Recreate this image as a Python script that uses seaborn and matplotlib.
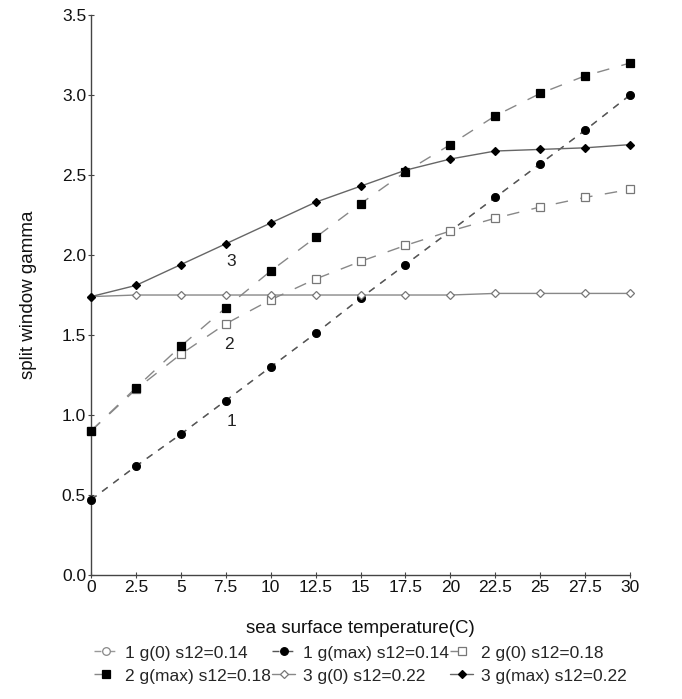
import numpy as np
import pandas as pd
import matplotlib
matplotlib.use("Agg")
import matplotlib.pyplot as plt
import seaborn as sns

sns.set_style("ticks")
plt.rcParams["font.family"] = ["Liberation Sans", "DejaVu Sans"]

# sea surface temperature (C)
sst = [0, 2.5, 5, 7.5, 10, 12.5, 15, 17.5, 20, 22.5, 25, 27.5, 30]

g0_s014 = [0.47, 0.68, 0.88, 1.09, 1.30, 1.51, 1.73, 1.94, 2.15, 2.36, 2.57, 2.78, 3.00]
gmax_s014 = [0.47, 0.68, 0.88, 1.09, 1.30, 1.51, 1.73, 1.94, 2.15, 2.36, 2.57, 2.78, 3.00]
g0_s018 = [0.90, 1.16, 1.38, 1.57, 1.72, 1.85, 1.96, 2.06, 2.15, 2.23, 2.30, 2.36, 2.41]
gmax_s018 = [0.90, 1.17, 1.43, 1.67, 1.90, 2.11, 2.32, 2.52, 2.69, 2.87, 3.01, 3.12, 3.20]
g0_s022 = [1.74, 1.75, 1.75, 1.75, 1.75, 1.75, 1.75, 1.75, 1.75, 1.76, 1.76, 1.76, 1.76]
gmax_s022 = [1.74, 1.81, 1.94, 2.07, 2.20, 2.33, 2.43, 2.53, 2.60, 2.65, 2.66, 2.67, 2.69]

labels = ["1 g(0) s12=0.14", "1 g(max) s12=0.14", "2 g(0) s12=0.18",
          "2 g(max) s12=0.18", "3 g(0) s12=0.22", "3 g(max) s12=0.22"]
series = [g0_s014, gmax_s014, g0_s018, gmax_s018, g0_s022, gmax_s022]

styles = [
    dict(marker="o", mfc="white", mec="#888888", ls=(0, (5, 5)), color="#999999", ms=5.5),
    dict(marker="o", mfc="black", mec="black", ls=(0, (5, 5)), color="#555555", ms=5.5),
    dict(marker="s", mfc="white", mec="#777777", ls=(0, (9, 9)), color="#888888", ms=5.5),
    dict(marker="s", mfc="black", mec="black", ls=(0, (9, 9)), color="#888888", ms=5.5),
    dict(marker="D", mfc="white", mec="#777777", ls="-", color="#888888", ms=4.5),
    dict(marker="D", mfc="black", mec="black", ls="-", color="#666666", ms=4.5),
]

fig = plt.figure(figsize=(6.82, 6.99), dpi=100)
ax = fig.add_axes([0.1334, 0.1774, 0.7904, 0.8011])

for lab, vals, st in zip(labels, series, styles):
    df = pd.DataFrame({"sst": sst, "gamma": vals})
    sns.lineplot(data=df, x="sst", y="gamma", ax=ax, label=lab,
                 color=st["color"], linestyle=st["ls"], linewidth=1.0,
                 marker=st["marker"], markersize=st["ms"],
                 markerfacecolor=st["mfc"], markeredgecolor=st["mec"],
                 markeredgewidth=0.9, clip_on=False, zorder=3)

# curve group numbers
for txt, xv, yv in [("3", 7.8, 1.96), ("2", 7.7, 1.44), ("1", 7.8, 0.96)]:
    ax.text(xv, yv, txt, fontsize=12.5, ha="center", va="center", color="#222222")

ax.set_xlim(0, 30)
ax.set_ylim(0, 3.5)
ax.set_xticks(sst)
ax.set_xticklabels(["0", "2.5", "5", "7.5", "10", "12.5", "15", "17.5", "20",
                    "22.5", "25", "27.5", "30"])
ax.set_yticks(np.arange(0, 3.51, 0.5))
ax.set_yticklabels(["0.0", "0.5", "1.0", "1.5", "2.0", "2.5", "3.0", "3.5"])
ax.tick_params(axis="both", labelsize=12.5, length=5, width=0.8, direction="inout",
               color="#444444", labelcolor="#111111", pad=1)
for side in ("top", "right"):
    ax.spines[side].set_visible(False)
for side in ("left", "bottom"):
    ax.spines[side].set_color("#444444")
    ax.spines[side].set_linewidth(1.0)

ax.set_xlabel("sea surface temperature(C)", fontsize=13.5, labelpad=18, color="#111111")
ax.set_ylabel("split window gamma", fontsize=13.5, labelpad=18, color="#111111")

# row-wise legend order for a 3-column layout
handles, labs = ax.get_legend_handles_labels()
order = [0, 3, 1, 4, 2, 5]
ax.legend([handles[i] for i in order], [labs[i] for i in order],
          loc="upper center", bbox_to_anchor=(0.5, -0.104), ncol=3,
          frameon=False, fontsize=12.5, handlelength=1.3, handletextpad=0.45,
          columnspacing=0.1, labelspacing=0.45, borderpad=0.2)

fig.savefig("out.png", dpi=100)
